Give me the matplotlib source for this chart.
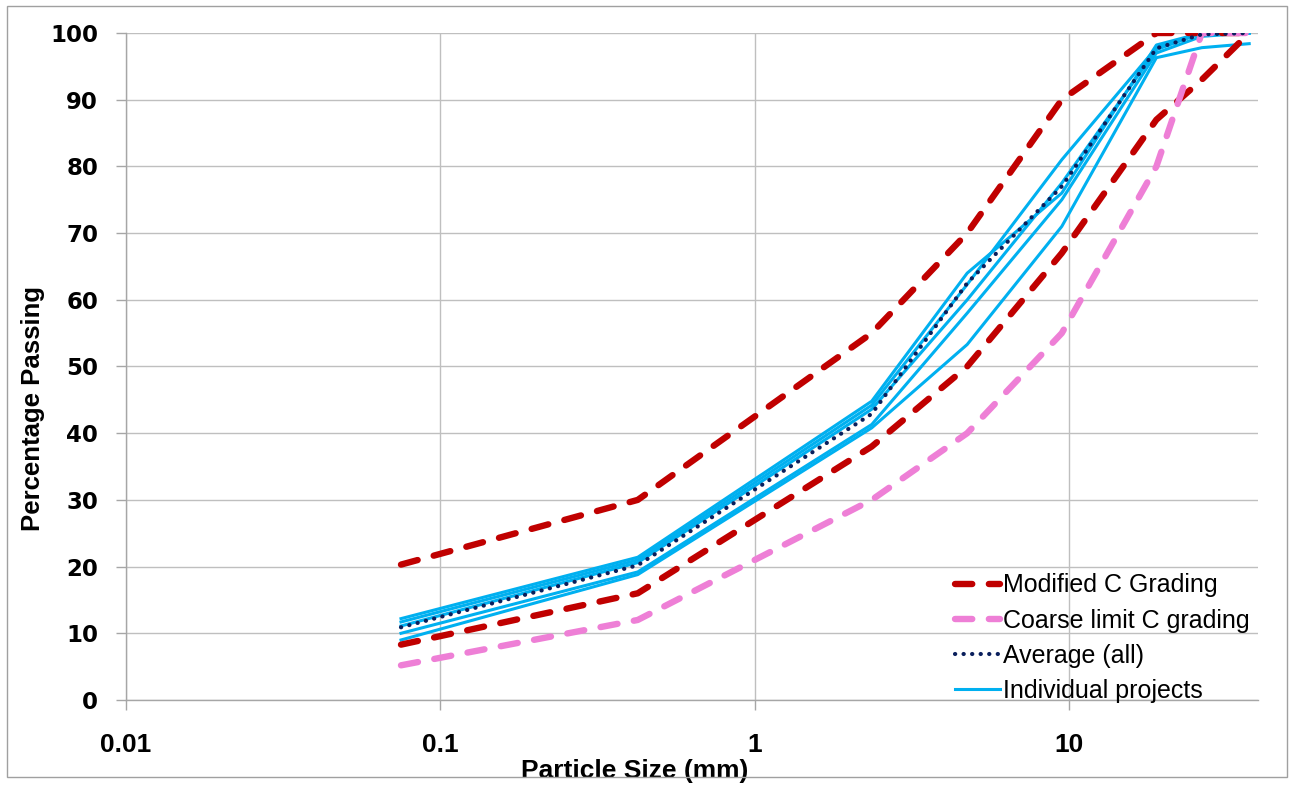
import matplotlib
matplotlib.use("Agg")
import matplotlib.pyplot as plt
from matplotlib.patches import Rectangle
from matplotlib.ticker import FixedLocator, FixedFormatter, NullLocator

# ---- data ----
sizes = [0.075, 0.425, 2.36, 4.75, 9.5, 19.0, 26.5, 37.5]
mod_upper = [20.3, 30, 55, 70, 90, 100, 100, 100]
mod_lower = [8.3, 16, 38, 50, 67, 87, 93, 100]
coarse_limit = [5.2, 12, 30, 40, 55, 80, 100, 100]
average_all = [10.9, 20.2, 42.9, 62.5, 77, 97.7, 99.8, 100]
proj_a = [12.2, 21.4, 44.8, 64.0, 76.0, 98.2, 100, 100]
proj_b = [11.7, 21.0, 44.2, 62.3, 81.0, 97.8, 100, 100]
proj_c = [11.1, 20.6, 43.6, 60.0, 77.5, 97.5, 100, 100]
proj_d = [10.0, 19.2, 41.3, 58.0, 75.0, 97.0, 99.5, 100]
proj_e = [9.0, 18.8, 40.8, 53.3, 71.0, 96.3, 97.8, 98.4]
projects = [proj_a, proj_b, proj_c, proj_d, proj_e]

x_ticks = [0.01, 0.1, 1, 10]
x_tick_labels = ["0.01", "0.1", "1", "10"]
y_ticks = list(range(0, 101, 10))

W, H = 1294, 789
fig = plt.figure(figsize=(W / 100, H / 100), dpi=100)
ax = fig.add_axes([126 / W, 1 - 700 / H, (1258 - 126) / W, (700 - 33) / H])

# figure border
fig.patches.append(Rectangle((7 / W, 1 - 777 / H), (1287 - 7) / W, (777 - 6) / H,
                             transform=fig.transFigure, fill=False,
                             edgecolor="#A0A0A0", linewidth=1.0))

cyan = "#00B0F0"
for i, p in enumerate(projects):
    ax.plot(sizes, p, color=cyan, lw=2.2, zorder=2,
            label="Individual projects" if i == 0 else None)

dash_kw = dict(lw=4.6, dash_capstyle="round", zorder=3)
l_mod, = ax.plot(sizes, mod_upper, color="#C00000", linestyle=(0, (2.7, 2.6)),
                 label="Modified C Grading", **dash_kw)
ax.plot(sizes, mod_lower, color="#C00000", linestyle=(0, (2.7, 2.6)), **dash_kw)
l_coarse, = ax.plot(sizes, coarse_limit, color="#EE7FD6", linestyle=(0, (2.7, 2.6)),
                    label="Coarse limit C grading", **dash_kw)
l_avg, = ax.plot(sizes, average_all, color="#0A1F5C", lw=3.0,
                 linestyle=(0, (0.05, 2.0)), dash_capstyle="round", zorder=4,
                 label="Average (all)")

ax.set_xscale("log")
ax.set_xlim(0.01, 40)
ax.set_ylim(0, 100)
ax.xaxis.set_major_locator(FixedLocator(x_ticks))
ax.xaxis.set_major_formatter(FixedFormatter(x_tick_labels))
ax.xaxis.set_minor_locator(NullLocator())
ax.set_yticks(y_ticks)

grid_c = "#BFBFBF"
ax.grid(True, which="major", color=grid_c, lw=1.0, zorder=0)
ax.set_axisbelow(True)
for s in ["top", "right"]:
    ax.spines[s].set_visible(False)
for s in ["left", "bottom"]:
    ax.spines[s].set_color("#A6A6A6")
    ax.spines[s].set_linewidth(1.0)

ax.tick_params(axis="y", direction="out", length=7, width=1, color="#A6A6A6",
               pad=13, labelsize=16.5)
ax.tick_params(axis="x", direction="out", length=7, width=1, color="#A6A6A6",
               pad=17, labelsize=19)
for t in ax.get_yticklabels():
    t.set_fontfamily("DejaVu Sans")
    t.set_fontweight("bold")
for t in ax.get_xticklabels():
    t.set_fontfamily("Liberation Sans")
    t.set_fontweight("bold")

ax.set_xlabel("Particle Size (mm)", fontfamily="Liberation Sans", fontweight="bold",
              fontsize=19)
ax.set_ylabel("Percentage Passing", fontfamily="Liberation Sans", fontweight="bold",
              fontsize=18.5)
ax.xaxis.set_label_coords((635 - 126) / 1132, (700 - 759) / 667)
ax.yaxis.set_label_coords((45 - 126) / 1132, (700 - 409) / 667)

handles = [l_mod, l_coarse, l_avg, ax.lines[0]]
labels = [h.get_label() for h in handles]
leg = ax.legend(handles, labels, loc="upper left", bbox_to_anchor=(0.732, 0.19),
                frameon=False, borderpad=0, borderaxespad=0, handlelength=1.8,
                handletextpad=0.12, labelspacing=0.45,
                prop={"family": "Liberation Sans", "size": 18})

fig.savefig("out.png", dpi=100)
